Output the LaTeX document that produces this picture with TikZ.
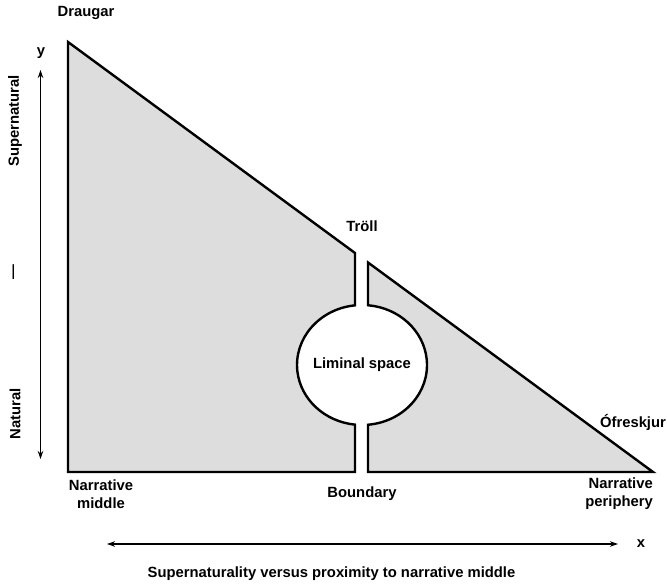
\documentclass[tikz,border=0pt]{standalone}
\usepackage{fontspec}
\setmainfont{Liberation Sans}
\usetikzlibrary{arrows.meta}
\definecolor{fillgray}{RGB}{221,221,221}
\begin{document}
\begin{tikzpicture}[x=1pt,y=1pt,
  lbl/.style={font=\bfseries\fontsize{14.8}{18}\selectfont, inner sep=0pt},
  outline/.style={line width=2.4pt, draw=black, fill=fillgray, line join=miter},
  axis/.style={line width=1.2pt, {Stealth[length=8pt,width=5.5pt]}-{Stealth[length=8pt,width=5.5pt]}}]
\useasboundingbox (0,0) rectangle (667,584);
% left part of the triangle
\draw[outline] (68,542) -- (355,331) -- (355,278.65)
  arc[start angle=96.2, end angle=263.8, x radius=65, y radius=60]
  -- (355,112) -- (68,112) -- cycle;
% right part of the triangle
\draw[outline] (368,321.5) -- (653,112) -- (368,112) -- (368,159.26)
  arc[start angle=-84.7, end angle=84.7, x radius=65, y radius=60]
  -- cycle;
% labels
\node[lbl] (draugar) at (86,571) {Draugar};
\node[lbl] (ylab) at (41,531) {y};
\node[lbl, rotate=90] (super) at (15,463) {Supernatural};
\node[lbl, rotate=90] (mid) at (15,312) {—};
\node[lbl, rotate=90] (nat) at (15,170) {Natural};
\node[lbl] (troll) at (362,358) {Tröll};
\node[lbl] (liminal) at (362,219) {Liminal space};
\node[lbl] (ofresk) at (633,162) {Ófreskjur};
\node[lbl, align=center] (nmid) at (101,90) {Narrative\\middle};
\node[lbl] (bound) at (362,90) {Boundary};
\node[lbl, align=right, anchor=east] (nper) at (653,90) {Narrative\\periphery};
\node[lbl] (xlab) at (641,40) {x};
\node[lbl] (caption) at (331.5,10) {Supernaturality versus proximity to narrative middle};
% axes
\coordinate (ytop) at (40.5,514);
\coordinate (ybot) at (40.5,125);
\coordinate (xleft) at (107,40);
\coordinate (xright) at (618,40);
\draw[axis] (ybot) -- (ytop);
\draw[axis] (xleft) -- (xright);
\end{tikzpicture}
\end{document}
